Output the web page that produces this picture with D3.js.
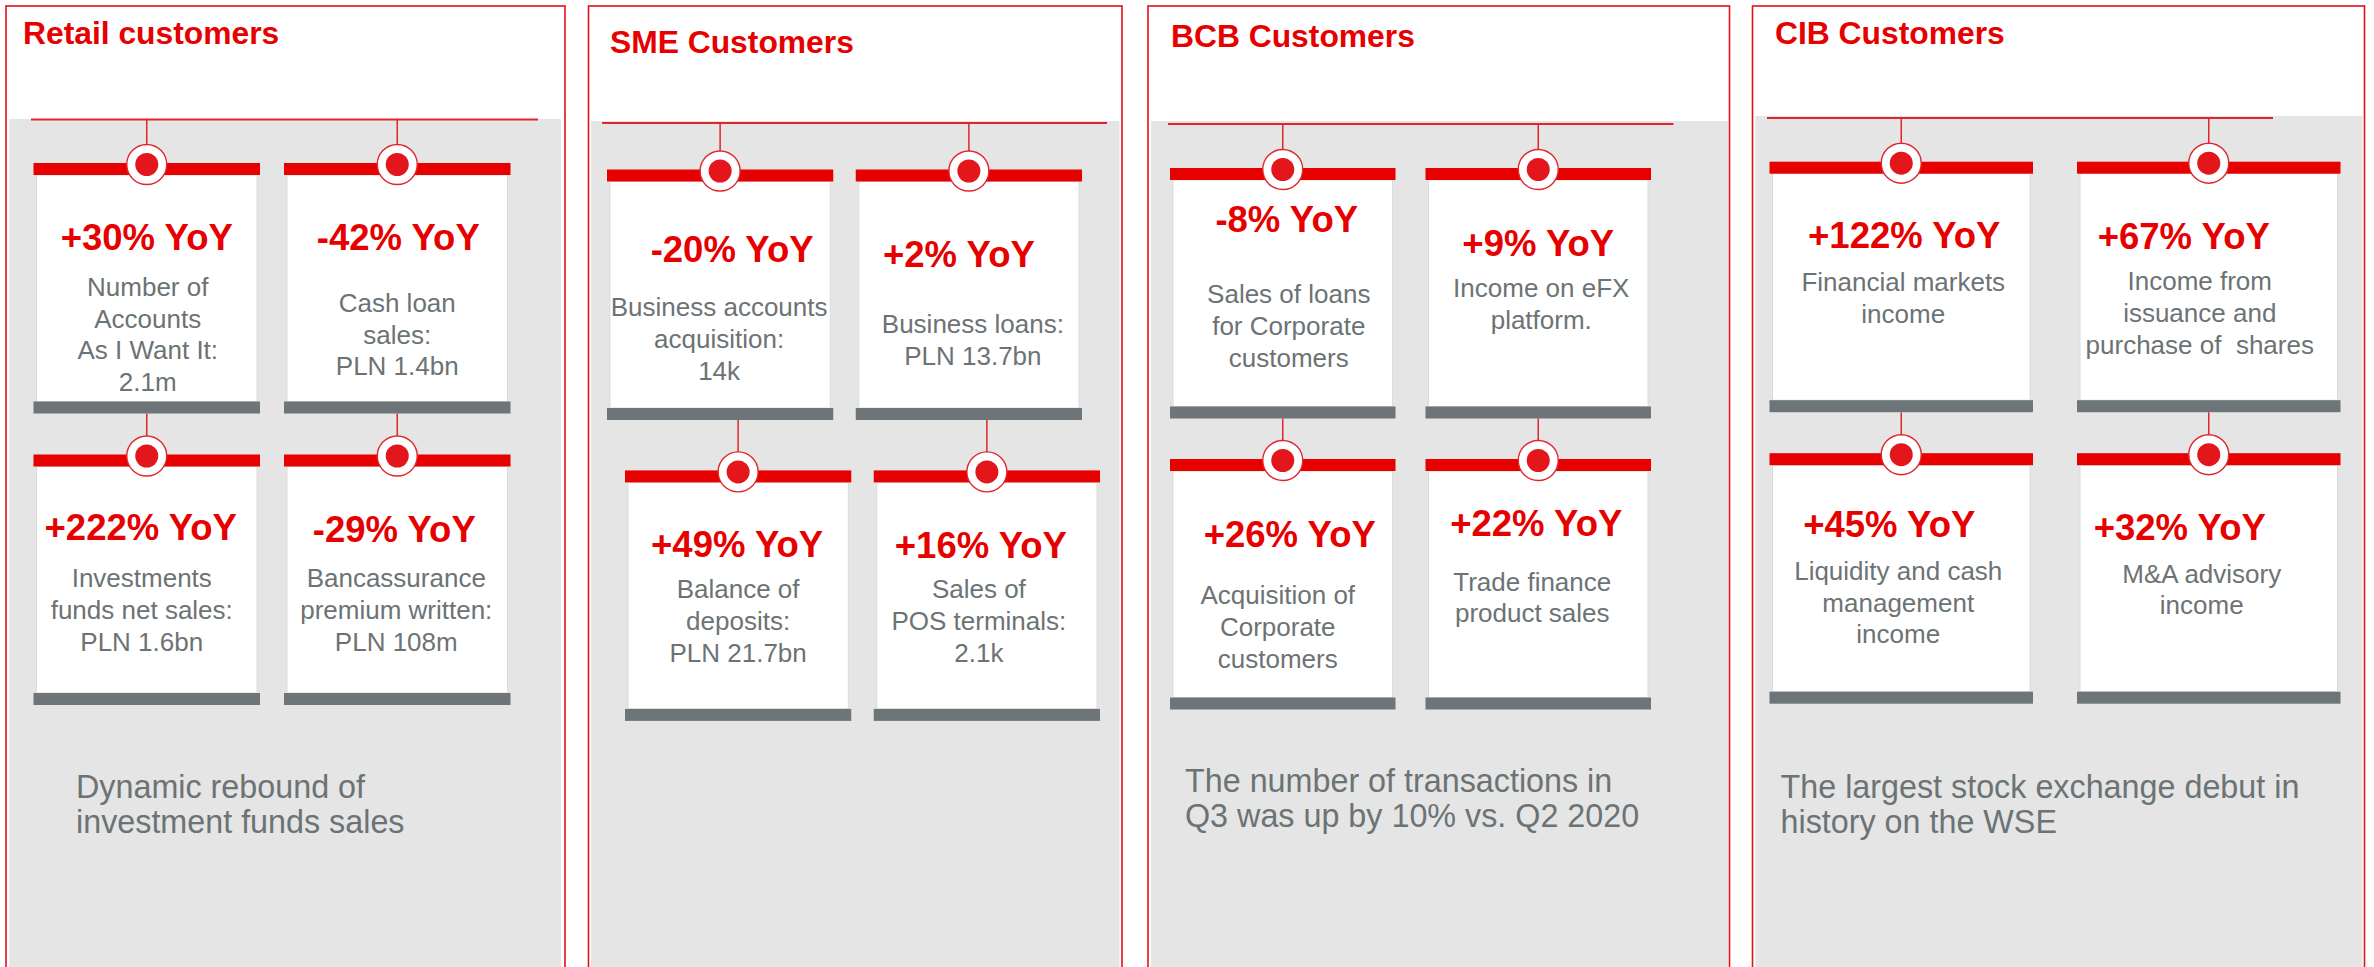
<!DOCTYPE html>
<html>
<head>
<meta charset="utf-8">
<script src="https://cdn.jsdelivr.net/npm/d3@7"></script>
<style>
  html, body { margin: 0; padding: 0; background: #ffffff; }
  svg { display: block; }
  text { font-family: "Liberation Sans", Arial, "Helvetica", sans-serif; white-space: pre; }
</style>
</head>
<body>
<div id="chart"></div>
<script>
// ---------------- DATA ----------------
const panelTitles = ["Retail customers", "SME Customers", "BCB Customers", "CIB Customers"];

// YoY change (%) per card, row-major (top-left, top-right, bottom-left, bottom-right)
const retailYoY = [30, -42, 222, -29];
const smeYoY    = [-20, 2, 49, 16];
const bcbYoY    = [-8, 9, 26, 22];
const cibYoY    = [122, 67, 45, 32];
const yoyValues = [retailYoY, smeYoY, bcbYoY, cibYoY];

const retailLabels = [
  ["Number of", "Accounts", "As I Want It:", "2.1m"],
  ["Cash loan", "sales:", "PLN 1.4bn"],
  ["Investments", "funds net sales:", "PLN 1.6bn"],
  ["Bancassurance", "premium written:", "PLN 108m"]
];
const smeLabels = [
  ["Business accounts", "acquisition:", "14k"],
  ["Business loans:", "PLN 13.7bn"],
  ["Balance of", "deposits:", "PLN 21.7bn"],
  ["Sales of", "POS terminals:", "2.1k"]
];
const bcbLabels = [
  ["Sales of loans", "for Corporate", "customers"],
  ["Income on eFX", "platform."],
  ["Acquisition of", "Corporate", "customers"],
  ["Trade finance", "product sales"]
];
const cibLabels = [
  ["Financial markets", "income"],
  ["Income from", "issuance and", "purchase of  shares"],
  ["Liquidity and cash", "management", "income"],
  ["M&A advisory", "income"]
];
const cardLabels = [retailLabels, smeLabels, bcbLabels, cibLabels];

const footnotes = [
  ["Dynamic rebound of", "investment funds sales"],
  [],
  ["The number of transactions in", "Q3 was up by 10% vs. Q2 2020"],
  ["The largest stock exchange debut in", "history on the WSE"]
];

// ---------------- LAYOUT (positions / styles, kept apart from data) ----------------
const W = 2374, H = 967;
const panelLayout = [
  {x0: 6,      x1: 565,    grayX0: 9.2,    grayX1: 561,    grayY: 119, hangY: 119.5, hangX0: 31,   hangX1: 538,    titleX: 23,   titleY: 44,   colRange: [33.5, 510.5],   gap: 24,   rowTops: [163, 454.5],   row2Shift: 0,  footX: 76,     footY: 798},
  {x0: 588.5,  x1: 1122,   grayX0: 591,    grayX1: 1119.5, grayY: 121, hangY: 123,   hangX0: 602,  hangX1: 1107,   titleX: 610,  titleY: 53,   colRange: [607, 1082],     gap: 22.5, rowTops: [169.5, 470.4], row2Shift: 18, footX: 620,    footY: 798},
  {x0: 1148,   x1: 1729.5, grayX0: 1151,   grayX1: 1728,   grayY: 121, hangY: 124,   hangX0: 1168, hangX1: 1673.5, titleX: 1171, titleY: 47,   colRange: [1170, 1651],    gap: 30,   rowTops: [168, 459],     row2Shift: 0,  footX: 1185,   footY: 792.4},
  {x0: 1752.5, x1: 2364.5, grayX0: 1755.5, grayX1: 2362.5, grayY: 116, hangY: 118,   hangX0: 1767, hangX1: 2273,   titleX: 1775, titleY: 44.3, colRange: [1769.5, 2340.5], gap: 44,  rowTops: [161.7, 453.2], row2Shift: 0,  footX: 1780.5, footY: 797.8}
];
// per-card text nudges: [yoyDx, yoyDy, labelDx, labelDy] relative to card centre / red bar top
const textLayout = [
  [[0, 87, 1, 132.7], [1, 87, 0, 148.7], [-6, 85.8, -5, 132.5], [-3, 87.5, -1, 132.5]],
  [[12, 92.8, -1, 146.5], [-10, 97.2, 4, 163.2], [-1, 86.2, 0, 127.8], [-6, 88, -8, 127.8]],
  [[4, 64.3, 6, 135.3], [0, 87.7, 3, 128.7], [7, 87.5, -5, 145.3], [-2, 77.3, -6, 131.6]],
  [[3, 86.6, 2, 129.3], [-25, 87.6, -9, 128.3], [-12, 84.2, -3, 126.5], [-29, 87.1, -7, 129.4]]
];
const cardHeight = 250.5, barH = 12, bodyInset = 3;
const ringR = 20, dotR = 11.5;
const lineStep = 31.8, footStep = 34.7;

const C = {
  red: "#E60000", dot: "#E2161B", border: "#E3101B", line: "#E0262C",
  barGray: "#6E7578", text: "#6C7375", panel: "#E5E5E5", white: "#FFFFFF"
};
const fmtYoY = v => (v > 0 ? "+" : "-") + Math.abs(v) + "% YoY";

// ---------------- DRAW ----------------
const svg = d3.select("#chart").append("svg").attr("width", W).attr("height", H);

panelLayout.forEach((P, pi) => {
  const g = svg.append("g").attr("class", "panel");

  // gray fill
  g.append("rect")
    .attr("x", P.grayX0).attr("y", P.grayY)
    .attr("width", P.grayX1 - P.grayX0).attr("height", H - P.grayY + 20)
    .attr("fill", C.panel);

  // border
  g.append("rect")
    .attr("x", P.x0).attr("y", 6)
    .attr("width", P.x1 - P.x0).attr("height", H + 40)
    .attr("fill", "none").attr("stroke", C.border).attr("stroke-width", 1.6);

  // title
  g.append("text")
    .attr("x", P.titleX).attr("y", P.titleY)
    .attr("font-size", 31.8).attr("font-weight", "bold").attr("fill", C.red)
    .text(panelTitles[pi]);

  // hanger line
  g.append("line")
    .attr("x1", P.hangX0).attr("x2", P.hangX1)
    .attr("y1", P.hangY).attr("y2", P.hangY)
    .attr("stroke", C.line).attr("stroke-width", 2);

  // scales
  const W0 = P.colRange[1] - P.colRange[0];
  const pad = 2 * P.gap / (W0 + P.gap);
  const xBand = d3.scaleBand().domain([0, 1]).range(P.colRange).paddingInner(pad).paddingOuter(0);
  const yRow = d3.scaleOrdinal().domain([0, 1]).range(P.rowTops);

  const cards = yoyValues[pi].map((v, i) => {
    const row = Math.floor(i / 2), col = i % 2;
    const x0 = xBand(col) + (row === 1 ? P.row2Shift : 0);
    return {v, i, row, col, x0, x1: x0 + xBand.bandwidth(), top: yRow(row),
            labels: cardLabels[pi][i], t: textLayout[pi][i]};
  });

  const cg = g.selectAll("g.card").data(cards).join("g").attr("class", "card");

  // connectors
  cg.append("line")
    .attr("x1", d => (d.x0 + d.x1) / 2).attr("x2", d => (d.x0 + d.x1) / 2)
    .attr("y1", d => d.row === 0 ? P.hangY : yRow(0) + cardHeight)
    .attr("y2", d => d.top + 1.5 - ringR)
    .attr("stroke", C.line).attr("stroke-width", 1.5);

  // white body
  cg.append("rect")
    .attr("x", d => d.x0 + bodyInset).attr("y", d => d.top + barH)
    .attr("width", d => d.x1 - d.x0 - 2 * bodyInset)
    .attr("height", cardHeight - 2 * barH)
    .attr("fill", C.white).attr("stroke", "#DCDCDC").attr("stroke-width", 1);

  // red top bar
  cg.append("rect")
    .attr("x", d => d.x0).attr("y", d => d.top)
    .attr("width", d => d.x1 - d.x0).attr("height", barH)
    .attr("fill", C.red);

  // gray bottom bar
  cg.append("rect")
    .attr("x", d => d.x0).attr("y", d => d.top + cardHeight - barH)
    .attr("width", d => d.x1 - d.x0).attr("height", barH)
    .attr("fill", C.barGray);

  // ring + dot
  cg.append("circle")
    .attr("cx", d => (d.x0 + d.x1) / 2).attr("cy", d => d.top + 1.5)
    .attr("r", ringR).attr("fill", C.white).attr("stroke", C.line).attr("stroke-width", 1.4);
  cg.append("circle")
    .attr("cx", d => (d.x0 + d.x1) / 2).attr("cy", d => d.top + 1.5)
    .attr("r", dotR).attr("fill", C.dot);

  // YoY value
  cg.append("text")
    .attr("x", d => (d.x0 + d.x1) / 2 + d.t[0]).attr("y", d => d.top + d.t[1])
    .attr("text-anchor", "middle")
    .attr("font-size", 36.5).attr("font-weight", "bold").attr("fill", C.red)
    .text(d => fmtYoY(d.v));

  // description lines
  cg.append("text")
    .attr("text-anchor", "middle").attr("font-size", 26).attr("fill", C.text)
    .selectAll("tspan").data(d => d.labels.map((s, k) => ({s, k, d})))
    .join("tspan")
    .attr("x", e => (e.d.x0 + e.d.x1) / 2 + e.d.t[2])
    .attr("y", e => e.d.top + e.d.t[3] + e.k * lineStep)
    .text(e => e.s);

  // footnote
  if (footnotes[pi].length) {
    g.append("text")
      .attr("font-size", 32.3).attr("fill", C.text)
      .selectAll("tspan").data(footnotes[pi]).join("tspan")
      .attr("x", P.footX).attr("y", (s, k) => P.footY + k * footStep)
      .text(s => s);
  }
});
</script>
</body>
</html>
